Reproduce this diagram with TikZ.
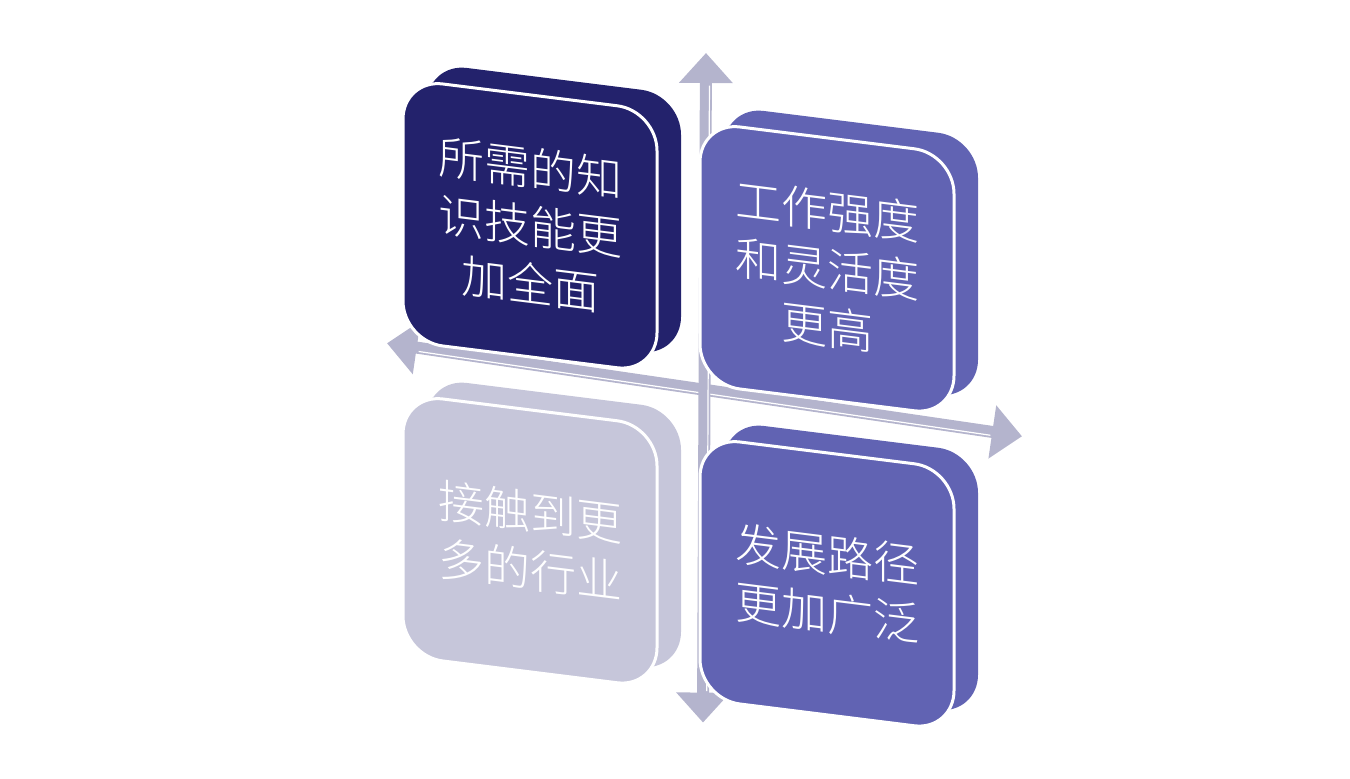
\documentclass[tikz,border=0pt]{standalone}
\usepackage{fontspec}
\newfontfamily\cjk{Noto Sans CJK SC Light}
\usepackage{tikz}
\usetikzlibrary{arrows.meta}
\definecolor{boxnavy}{RGB}{35,34,108}
\definecolor{boxslate}{RGB}{97,99,179}
\definecolor{boxlight}{RGB}{198,198,218}
\definecolor{axisgray}{RGB}{180,180,205}
\tikzset{
    myback/.style = {rounded corners=20pt},
    myface/.style = {draw=white, line width=1.5pt, rounded corners=20pt},
    mytext/.style = {align=center, inner sep=0pt, text=white, transform shape, font=\cjk\fontsize{23}{29}\selectfont},
    edgea/.style = {line width=6pt, draw=axisgray, {Triangle[width=26pt,length=15pt]}-{Triangle[width=26pt,length=15pt]}},
    edgew/.style = {white, line width=0.6pt, shorten <=16pt, shorten >=16pt},
}

\begin{document}
\begin{tikzpicture}[x=0.5pt, y=-0.5pt]
\useasboundingbox (0, 0) rectangle (1350, 779);
%
% axes
\begin{scope}[shift={(706, 390)}, yslant=-0.1465]
\coordinate (west) at (-319, 0);
\coordinate (east) at (316, 0);
\coordinate (north) at (0, -337);
\coordinate (south) at (-3, 333);
\draw[edgea] (west) -- (east);
\draw[edgew] ([yshift=-1.8pt]west) -- ([yshift=-1.8pt]east);
\draw[edgea] (north) -- (south);
\draw[edgew] ([xshift=1.8pt]north) -- ([xshift=1.8pt]south);
\end{scope}
%
% top left
\begin{scope}[shift={(403, 79)}, yslant=-0.125]
\fill[myback, boxnavy] (24, -19) -- (278, -19) -- (278, 243) -- (24, 243) -- cycle;
\fill[boxnavy] (17, 10) -- (41, -9) -- (261, 233) -- (237, 252) -- cycle;
\filldraw[myface, fill=boxnavy] (0, 0) -- (254, 0) -- (254, 262) -- (0, 262) -- cycle;
\node[mytext] at (127, 131) (skill) {所需的知\\识技能更\\加全面};
\end{scope}
%
% top right
\begin{scope}[shift={(700, 122)}, yslant=-0.125]
\fill[myback, boxslate] (24, -19) -- (278, -19) -- (278, 243) -- (24, 243) -- cycle;
\fill[boxslate] (17, 10) -- (41, -9) -- (261, 233) -- (237, 252) -- cycle;
\filldraw[myface, fill=boxslate] (0, 0) -- (254, 0) -- (254, 262) -- (0, 262) -- cycle;
\node[mytext] at (127, 131) (effort) {工作强度\\和灵活度\\更高};
\end{scope}
%
% bottom left
\begin{scope}[shift={(403, 394)}, yslant=-0.125]
\fill[myback, boxlight] (24, -19) -- (278, -19) -- (278, 243) -- (24, 243) -- cycle;
\fill[boxlight] (17, 10) -- (41, -9) -- (261, 233) -- (237, 252) -- cycle;
\filldraw[myface, fill=boxlight] (0, 0) -- (254, 0) -- (254, 262) -- (0, 262) -- cycle;
\node[mytext] at (127, 131) (field) {接触到更\\多的行业};
\end{scope}
%
% bottom right
\begin{scope}[shift={(700, 437)}, yslant=-0.125]
\fill[myback, boxslate] (24, -19) -- (278, -19) -- (278, 243) -- (24, 243) -- cycle;
\fill[boxslate] (17, 10) -- (41, -9) -- (261, 233) -- (237, 252) -- cycle;
\filldraw[myface, fill=boxslate] (0, 0) -- (254, 0) -- (254, 262) -- (0, 262) -- cycle;
\node[mytext] at (127, 131) (career) {发展路径\\更加广泛};
\end{scope}
\end{tikzpicture}
\end{document}
